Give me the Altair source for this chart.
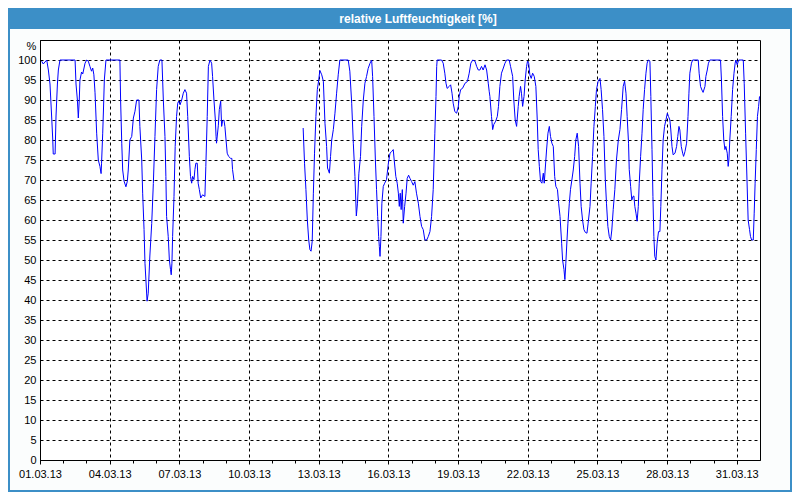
import altair as alt
import pandas as pd

title_text = "relative Luftfeuchtigkeit [%]"
y_ticks = list(range(0, 101, 5))
x_tick_days = list(range(1, 32))

# segment 1: day offset from 01.03.13 00:00, relative humidity %
seg1_days = [0.07, 0.14, 0.29, 0.36, 0.43, 0.50, 0.55, 0.57, 0.65, 0.69, 0.75, 0.79, 0.86, 1.51, 1.55, 1.61, 1.65, 1.69, 1.72, 1.79,
             1.84, 1.94, 2.01, 2.08, 2.15, 2.22, 2.27, 2.32, 2.37, 2.44, 2.51, 2.58, 2.63, 2.65, 2.70, 2.73, 2.77, 2.84, 3.44, 3.47,
             3.52, 3.56, 3.62, 3.70, 3.76, 3.80, 3.87, 3.95, 4.02, 4.09, 4.16, 4.26, 4.30, 4.38, 4.42, 4.48, 4.52, 4.56, 4.61, 4.66,
             4.73, 4.81, 4.88, 4.95, 5.02, 5.09, 5.16, 5.25, 5.31, 5.38, 5.42, 5.45, 5.52, 5.57, 5.62, 5.65, 5.68, 5.71, 5.77, 5.82,
             5.88, 5.93, 5.97, 6.03, 6.10, 6.17, 6.24, 6.31, 6.36, 6.43, 6.48, 6.53, 6.57, 6.63, 6.67, 6.71, 6.77, 6.81, 6.86, 6.92,
             7.00, 7.10, 7.14, 7.20, 7.25, 7.32, 7.39, 7.43, 7.49, 7.55, 7.58, 7.60, 7.68, 7.72, 7.78, 7.82, 7.86, 7.92, 7.96, 8.01,
             8.06, 8.12, 8.21, 8.26, 8.29, 8.35]
seg1_vals = [99.7, 99, 100, 97.5, 94, 86, 80, 76.5, 76.5, 86, 94, 97.5, 100, 100, 94, 90, 85.5, 90, 95, 97,
             96.5, 99.2, 100, 99.7, 98.4, 97.2, 98, 96.3, 91.8, 81.7, 75, 73.4, 71.6, 74.2, 81.7, 87, 95, 100, 100, 90,
             79.2, 72.5, 69.7, 68.3, 69.7, 72.5, 80, 80.9, 85.5, 87.2, 90, 90, 83.4, 75, 66.7, 57.6, 49.2, 45, 39.7, 41.7,
             51, 59.1, 69.1, 80.9, 92.6, 98.4, 100, 100, 90, 80.9, 70.9, 60.9, 55.9, 50, 47.6, 46.3, 49.2, 55.9, 65.9, 78.4,
             85.9, 89.2, 89.7, 88.8, 90, 91.7, 92.6, 91.7, 85.9, 75.9, 70.9, 69.2, 70.9, 70.1, 72.6, 74.2, 74.2, 69.2, 67.6, 65.5,
             66.3, 65.9, 73.4, 85.9, 98.4, 100, 99.2, 95.9, 90, 85, 80.9, 79.2, 83.7, 87.6, 89.7, 83.4, 84.7, 85, 83.4, 80,
             76.7, 75.9, 75.4, 75.4, 72.6, 70]

# segment 2
seg2_days = [11.33, 11.35, 11.39, 11.45, 11.51, 11.57, 11.62, 11.67, 11.72, 11.77, 11.82, 11.88, 11.94, 12.00, 12.05, 12.13, 12.20,
             12.27, 12.34, 12.38, 12.46, 12.51, 12.56, 12.63, 12.70, 12.77, 12.84, 12.91, 13.27, 13.34, 13.42, 13.49, 13.56,
             13.62, 13.67, 13.73, 13.80, 13.85, 13.92, 13.99, 14.06, 14.13, 14.21, 14.28, 14.32, 14.38, 14.44, 14.49, 14.54,
             14.58, 14.61, 14.64, 14.68, 14.72, 14.78, 14.84, 14.92, 15.00, 15.07, 15.14, 15.21, 15.25, 15.32, 15.38, 15.43,
             15.47, 15.51, 15.55, 15.60, 15.64, 15.70, 15.76, 15.81, 15.87, 15.93, 16.00, 16.07, 16.14, 16.21, 16.29, 16.36,
             16.43, 16.50, 16.57, 16.65, 16.72, 16.79, 16.86, 16.93, 17.00, 17.05, 17.08, 17.10, 17.29, 17.36, 17.43, 17.48,
             17.53, 17.62, 17.68, 17.74, 17.79, 17.86, 17.94, 18.01, 18.05, 18.11, 18.19, 18.30, 18.40, 18.48, 18.55, 18.63,
             18.73, 18.80, 18.87, 18.94, 19.01, 19.08, 19.16, 19.23, 19.30, 19.34, 19.37, 19.44, 19.49, 19.54, 19.62, 19.69,
             19.74, 19.80, 19.87, 19.95, 20.02, 20.09, 20.20, 20.26, 20.35, 20.40, 20.46, 20.52, 20.59, 20.63, 20.69, 20.73,
             20.78, 20.84, 20.89, 20.95, 20.99, 21.04, 21.09, 21.15, 21.21, 21.28, 21.35, 21.41, 21.45, 21.50, 21.55, 21.61,
             21.67, 21.71, 21.75, 21.81, 21.87, 21.93, 21.98, 22.04, 22.10, 22.16, 22.21, 22.28, 22.33, 22.39, 22.46, 22.50,
             22.56, 22.60, 22.64, 22.69, 22.73, 22.79, 22.84, 22.90, 22.96, 23.02, 23.07, 23.13, 23.19, 23.25, 23.30, 23.36,
             23.42, 23.48, 23.55, 23.60, 23.68, 23.73, 23.79, 23.85, 23.91, 23.96, 24.03, 24.11, 24.16, 24.22, 24.28, 24.34,
             24.39, 24.45, 24.51, 24.57, 24.62, 24.68, 24.75, 24.82, 24.90, 24.97, 25.04, 25.11, 25.17, 25.23, 25.28, 25.34,
             25.37, 25.43, 25.48, 25.53, 25.57, 25.61, 25.66, 25.71, 25.76, 25.80, 25.86, 25.92, 25.97, 26.03, 26.09, 26.14,
             26.19, 26.26, 26.30, 26.35, 26.39, 26.43, 26.47, 26.52, 26.57, 26.63, 26.69, 26.73, 26.78, 26.83, 26.89, 26.95,
             27.01, 27.06, 27.12, 27.16, 27.21, 27.26, 27.34, 27.41, 27.46, 27.51, 27.55, 27.61, 27.67, 27.71, 27.77, 27.84,
             27.90, 27.94, 27.98, 28.05, 28.10, 28.34, 28.38, 28.44, 28.50, 28.55, 28.63, 28.67, 28.73, 28.78, 28.84, 29.30,
             29.34, 29.39, 29.44, 29.49, 29.53, 29.59, 29.63, 29.66, 29.70, 29.76, 29.82, 29.88, 29.93, 29.96, 30.02, 30.08,
             30.28, 30.32, 30.38, 30.44, 30.49, 30.55, 30.59, 30.64, 30.71, 30.75, 30.79, 30.84, 30.89, 30.94, 30.98]
seg2_vals = [83, 80, 74.2, 67.6, 60, 55, 52.6, 52.2, 54.7, 66.7, 76.7, 85.9, 92.6, 95, 97.4, 96.3, 94.7,
             84.2, 78.4, 73, 71.7, 75.9, 80, 82.6, 86.7, 91.7, 96.3, 100, 100, 97.2, 89.2, 79.2, 70.9,
             61, 64.2, 71.7, 75.9, 83.4, 90, 94.2, 95.9, 97.9, 99.2, 100, 95.9, 85.9, 75, 67.6, 60.9,
             55.9, 53.4, 50.9, 55.9, 64.2, 68.4, 69.2, 70.1, 74.2, 76.7, 77.1, 77.6, 75, 70.9, 69.2, 66.7,
             63.4, 66.7, 62.6, 67.6, 59.2, 63.4, 66.7, 70.4, 71.2, 70.4, 69.6, 68.7, 69.6, 66.7, 64.2, 60.9,
             58.4, 57.6, 55, 55, 55.9, 57.1, 60.9, 67.6, 81.7, 90.9, 98.4, 100, 100, 99.2, 96.7, 94.2,
             92.9, 93.4, 93.8, 91.7, 89.2, 87.1, 86.7, 88.4, 90.9, 92.6, 92.9, 94.2, 94.6, 96.7, 99.2, 100,
             99.7, 98.4, 97.5, 97.5, 98.4, 97.5, 98.8, 97.5, 94.2, 92.2, 90.9, 85.9, 82.6, 83.9, 84.7, 85.9,
             88.4, 93.4, 96.7, 98, 99.2, 100, 100, 98.4, 95.9, 90, 85, 83.4, 88.4, 90.9, 93.4, 91.7,
             88.4, 90.9, 95, 98.4, 99.7, 99.2, 96.3, 95.4, 96.7, 95.9, 93.4, 85, 77.6, 73.4, 69.7, 69.2,
             71.7, 69.2, 72.5, 77.5, 81.7, 83.4, 80.9, 79.2, 78.4, 70.9, 68.4, 67.6, 64.2, 60.9, 54.2, 50,
             47.6, 45.1, 49.2, 55, 59.2, 64.2, 67.6, 70, 72.5, 75.9, 80, 81.7, 78.4, 69.2, 63.4, 60,
             57.6, 56.9, 56.7, 59.2, 63.4, 69.2, 75.9, 83.4, 88.4, 92.6, 94.7, 95.4, 92.6, 87.6, 80.9, 70,
             64.2, 58.4, 55.9, 55, 57.5, 62.6, 67.6, 75, 80, 82.6, 87.6, 93.4, 94.7, 91.7, 85.9, 79.2,
             72.6, 68.4, 65, 65.9, 66, 63.4, 61.7, 59.7, 63.4, 69.2, 75.9, 81.7, 87.6, 92.6, 96.7, 99.2,
             100, 99.7, 90.9, 77.6, 65.9, 55.9, 50.9, 50, 54.2, 57.1, 57.1, 63.4, 72.6, 80, 83.4, 85,
             86.7, 85.9, 85, 82.5, 78.4, 76.3, 76.7, 78.4, 80.9, 83.4, 82.5, 78.4, 76.7, 75.9, 77.1, 79.2,
             85.9, 91.7, 96.7, 99.2, 100, 100, 96.7, 93.4, 92.5, 91.9, 93.4, 95.9, 97.5, 99.2, 100, 100,
             95, 85.9, 80, 77.6, 78.4, 76.7, 73.4, 75, 80, 85.9, 92.6, 96.7, 99.2, 100, 98.8, 100,
             100, 94.2, 81.7, 70, 60, 57.6, 55.9, 55, 55, 61.7, 69.2, 77.6, 85.9, 88.4, 90.9]

start = pd.Timestamp("2013-03-01", tz="UTC")


def to_ms(d):
    return int((start + pd.Timedelta(days=d)).value // 10**6)


df = pd.concat([
    pd.DataFrame({"t": [to_ms(d) for d in seg1_days], "v": seg1_vals, "seg": 1}),
    pd.DataFrame({"t": [to_ms(d) for d in seg2_days], "v": seg2_vals, "seg": 2}),
], ignore_index=True)

tick_ms = [to_ms(d - 1) for d in x_tick_days]
domain_ms = [to_ms(0), to_ms(31)]

W, H = 720, 420
FONT = "Liberation Sans"
BLUE = "#3c8fc7"
major = "utcdate(datum.value) % 3 == 1"

x_axis = alt.Axis(
    values=tick_ms,
    labelExpr=f"{major} ? utcFormat(datum.value, '%d.%m.%y') : ''",
    grid=True, gridColor="black", gridDash=[3, 3], gridWidth=1,
    gridOpacity={"condition": {"test": major, "value": 1}, "value": 0},
    tickSize={"condition": {"test": major, "value": 4}, "value": 3},
    tickColor="black", domainColor="black",
    labelFont=FONT, labelFontSize=11, labelColor="black", labelPadding=4,
    labelOverlap=False, labelFlush=False, labelBound=False, title=None,
)
y_axis = alt.Axis(
    values=y_ticks, grid=True, gridColor="black", gridDash=[3, 3], gridWidth=1,
    tickSize=0, domainColor="black",
    labelFont=FONT, labelFontSize=11, labelColor="black", labelPadding=4,
    title="%", titleAngle=0, titleX=-9, titleY=6, titleAlign="center", titleBaseline="middle",
    titleFont=FONT, titleFontSize=11, titleFontWeight="normal", titleColor="black",
)

line = alt.Chart(df).mark_line(color="#0000ff", strokeWidth=1, clip=True).encode(
    x=alt.X("t:T", scale=alt.Scale(type="utc", domain=domain_ms, nice=False), axis=x_axis),
    y=alt.Y("v:Q", scale=alt.Scale(domain=[0, 105], nice=False, zero=True), axis=y_axis),
    detail="seg:N",
)

one = pd.DataFrame({"label": [title_text]})
bar = alt.Chart(one).mark_rect(color=BLUE).encode(
    x=alt.value(-32), x2=alt.value(W + 32), y=alt.value(-32), y2=alt.value(-11)
)
frame = alt.Chart(one).mark_rect(fillOpacity=0, stroke=BLUE, strokeWidth=2).encode(
    x=alt.value(-31), x2=alt.value(W + 31), y=alt.value(-31), y2=alt.value(H + 31)
)
title = alt.Chart(one).mark_text(
    color="white", font=FONT, fontSize=12, fontWeight="bold", align="center", baseline="middle"
).encode(x=alt.value(378), y=alt.value(-21), text="label:N")

chart = alt.layer(line, frame, bar, title).properties(
    width=W, height=H,
    padding={"left": 32, "top": 32, "right": 32, "bottom": 32},
    autosize=alt.AutoSizeParams(type="none"),
    background="#fbfdfd",
).configure_view(stroke="black", strokeWidth=1, fill="white")

chart.save("out.html", embed_options={"renderer": "svg", "actions": False})
